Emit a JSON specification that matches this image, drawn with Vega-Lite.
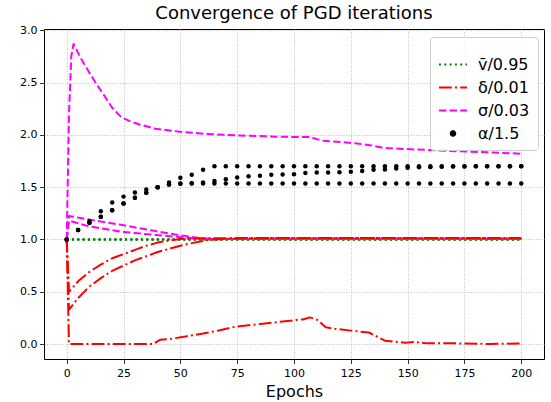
{
  "$schema": "https://vega.github.io/schema/vega-lite/v6.json",
  "width": 500,
  "height": 330,
  "autosize": {"type": "none"},
  "padding": {"left": 44, "top": 29, "right": 7, "bottom": 43},
  "title": {"text": "Convergence of PGD iterations", "fontSize": 18, "font": "DejaVu Sans", "fontWeight": "normal", "color": "black", "offset": 1, "anchor": "middle"},
  "config": {
    "font": "DejaVu Sans",
    "view": {"stroke": "black", "strokeWidth": 1},
    "axis": {"domain": false, "tickColor": "black", "tickSize": 4.5, "tickWidth": 0.8, "labelFont": "DejaVu Sans", "labelFontSize": 11, "labelColor": "black", "labelPadding": 2.5, "grid": true, "gridColor": "#b0b0b0", "gridDash": [1, 1.6], "gridWidth": 0.8, "titleFont": "DejaVu Sans", "titleFontWeight": "normal", "titleColor": "black"}
  },
  "data": {"values": [
    {"run": "A", "series": "v̄/0.95", "epoch": 0, "value": 1.0},
    {"run": "A", "series": "v̄/0.95", "epoch": 200, "value": 1.0},
    {"run": "B", "series": "v̄/0.95", "epoch": 0, "value": 1.0},
    {"run": "B", "series": "v̄/0.95", "epoch": 200, "value": 1.0},
    {"run": "C", "series": "v̄/0.95", "epoch": 0, "value": 1.0},
    {"run": "C", "series": "v̄/0.95", "epoch": 200, "value": 1.0},

    {"run": "A", "series": "δ/0.01", "epoch": 0, "value": 1.0},
    {"run": "A", "series": "δ/0.01", "epoch": 1, "value": 0.0},
    {"run": "A", "series": "δ/0.01", "epoch": 10, "value": 0.0},
    {"run": "A", "series": "δ/0.01", "epoch": 38, "value": 0.0},
    {"run": "A", "series": "δ/0.01", "epoch": 41, "value": 0.04},
    {"run": "A", "series": "δ/0.01", "epoch": 46, "value": 0.05},
    {"run": "A", "series": "δ/0.01", "epoch": 53, "value": 0.075},
    {"run": "A", "series": "δ/0.01", "epoch": 60, "value": 0.1},
    {"run": "A", "series": "δ/0.01", "epoch": 67, "value": 0.13},
    {"run": "A", "series": "δ/0.01", "epoch": 74, "value": 0.165},
    {"run": "A", "series": "δ/0.01", "epoch": 80, "value": 0.18},
    {"run": "A", "series": "δ/0.01", "epoch": 89, "value": 0.2},
    {"run": "A", "series": "δ/0.01", "epoch": 95, "value": 0.215},
    {"run": "A", "series": "δ/0.01", "epoch": 101, "value": 0.23},
    {"run": "A", "series": "δ/0.01", "epoch": 104, "value": 0.235},
    {"run": "A", "series": "δ/0.01", "epoch": 107, "value": 0.255},
    {"run": "A", "series": "δ/0.01", "epoch": 110, "value": 0.235},
    {"run": "A", "series": "δ/0.01", "epoch": 114, "value": 0.16},
    {"run": "A", "series": "δ/0.01", "epoch": 118, "value": 0.145},
    {"run": "A", "series": "δ/0.01", "epoch": 125, "value": 0.128},
    {"run": "A", "series": "δ/0.01", "epoch": 133, "value": 0.11},
    {"run": "A", "series": "δ/0.01", "epoch": 137, "value": 0.065},
    {"run": "A", "series": "δ/0.01", "epoch": 140, "value": 0.032},
    {"run": "A", "series": "δ/0.01", "epoch": 149, "value": 0.013},
    {"run": "A", "series": "δ/0.01", "epoch": 153, "value": 0.02},
    {"run": "A", "series": "δ/0.01", "epoch": 159, "value": 0.006},
    {"run": "A", "series": "δ/0.01", "epoch": 171, "value": 0.006},
    {"run": "A", "series": "δ/0.01", "epoch": 186, "value": 0.0},
    {"run": "A", "series": "δ/0.01", "epoch": 200, "value": 0.006},

    {"run": "B", "series": "δ/0.01", "epoch": 0, "value": 1.0},
    {"run": "B", "series": "δ/0.01", "epoch": 1, "value": 0.5},
    {"run": "B", "series": "δ/0.01", "epoch": 5, "value": 0.6},
    {"run": "B", "series": "δ/0.01", "epoch": 10, "value": 0.69},
    {"run": "B", "series": "δ/0.01", "epoch": 15, "value": 0.76},
    {"run": "B", "series": "δ/0.01", "epoch": 20, "value": 0.82},
    {"run": "B", "series": "δ/0.01", "epoch": 25, "value": 0.86},
    {"run": "B", "series": "δ/0.01", "epoch": 30, "value": 0.9},
    {"run": "B", "series": "δ/0.01", "epoch": 35, "value": 0.94},
    {"run": "B", "series": "δ/0.01", "epoch": 40, "value": 0.97},
    {"run": "B", "series": "δ/0.01", "epoch": 45, "value": 0.99},
    {"run": "B", "series": "δ/0.01", "epoch": 50, "value": 1.005},
    {"run": "B", "series": "δ/0.01", "epoch": 60, "value": 1.012},
    {"run": "B", "series": "δ/0.01", "epoch": 100, "value": 1.015},
    {"run": "B", "series": "δ/0.01", "epoch": 150, "value": 1.015},
    {"run": "B", "series": "δ/0.01", "epoch": 200, "value": 1.012},

    {"run": "C", "series": "δ/0.01", "epoch": 0, "value": 1.0},
    {"run": "C", "series": "δ/0.01", "epoch": 1, "value": 0.33},
    {"run": "C", "series": "δ/0.01", "epoch": 5, "value": 0.44},
    {"run": "C", "series": "δ/0.01", "epoch": 10, "value": 0.55},
    {"run": "C", "series": "δ/0.01", "epoch": 15, "value": 0.63},
    {"run": "C", "series": "δ/0.01", "epoch": 20, "value": 0.7},
    {"run": "C", "series": "δ/0.01", "epoch": 25, "value": 0.75},
    {"run": "C", "series": "δ/0.01", "epoch": 30, "value": 0.8},
    {"run": "C", "series": "δ/0.01", "epoch": 35, "value": 0.84},
    {"run": "C", "series": "δ/0.01", "epoch": 40, "value": 0.88},
    {"run": "C", "series": "δ/0.01", "epoch": 45, "value": 0.91},
    {"run": "C", "series": "δ/0.01", "epoch": 50, "value": 0.94},
    {"run": "C", "series": "δ/0.01", "epoch": 55, "value": 0.965},
    {"run": "C", "series": "δ/0.01", "epoch": 60, "value": 0.985},
    {"run": "C", "series": "δ/0.01", "epoch": 65, "value": 1.0},
    {"run": "C", "series": "δ/0.01", "epoch": 75, "value": 1.01},
    {"run": "C", "series": "δ/0.01", "epoch": 100, "value": 1.015},
    {"run": "C", "series": "δ/0.01", "epoch": 150, "value": 1.015},
    {"run": "C", "series": "δ/0.01", "epoch": 200, "value": 1.015},

    {"run": "A", "series": "σ/0.03", "epoch": 0, "value": 1.0},
    {"run": "A", "series": "σ/0.03", "epoch": 1, "value": 2.2},
    {"run": "A", "series": "σ/0.03", "epoch": 2, "value": 2.75},
    {"run": "A", "series": "σ/0.03", "epoch": 3, "value": 2.87},
    {"run": "A", "series": "σ/0.03", "epoch": 4, "value": 2.83},
    {"run": "A", "series": "σ/0.03", "epoch": 6, "value": 2.74},
    {"run": "A", "series": "σ/0.03", "epoch": 9, "value": 2.63},
    {"run": "A", "series": "σ/0.03", "epoch": 13, "value": 2.49},
    {"run": "A", "series": "σ/0.03", "epoch": 17, "value": 2.36},
    {"run": "A", "series": "σ/0.03", "epoch": 20, "value": 2.26},
    {"run": "A", "series": "σ/0.03", "epoch": 24, "value": 2.17},
    {"run": "A", "series": "σ/0.03", "epoch": 28, "value": 2.13},
    {"run": "A", "series": "σ/0.03", "epoch": 32, "value": 2.1},
    {"run": "A", "series": "σ/0.03", "epoch": 39, "value": 2.06},
    {"run": "A", "series": "σ/0.03", "epoch": 50, "value": 2.03},
    {"run": "A", "series": "σ/0.03", "epoch": 61, "value": 2.01},
    {"run": "A", "series": "σ/0.03", "epoch": 76, "value": 1.995},
    {"run": "A", "series": "σ/0.03", "epoch": 90, "value": 1.985},
    {"run": "A", "series": "σ/0.03", "epoch": 102, "value": 1.98},
    {"run": "A", "series": "σ/0.03", "epoch": 107, "value": 1.98},
    {"run": "A", "series": "σ/0.03", "epoch": 110, "value": 1.96},
    {"run": "A", "series": "σ/0.03", "epoch": 113, "value": 1.945},
    {"run": "A", "series": "σ/0.03", "epoch": 116, "value": 1.94},
    {"run": "A", "series": "σ/0.03", "epoch": 127, "value": 1.92},
    {"run": "A", "series": "σ/0.03", "epoch": 134, "value": 1.9},
    {"run": "A", "series": "σ/0.03", "epoch": 139, "value": 1.877},
    {"run": "A", "series": "σ/0.03", "epoch": 149, "value": 1.865},
    {"run": "A", "series": "σ/0.03", "epoch": 171, "value": 1.845},
    {"run": "A", "series": "σ/0.03", "epoch": 185, "value": 1.835},
    {"run": "A", "series": "σ/0.03", "epoch": 200, "value": 1.82},

    {"run": "B", "series": "σ/0.03", "epoch": 0, "value": 1.0},
    {"run": "B", "series": "σ/0.03", "epoch": 1, "value": 1.225},
    {"run": "B", "series": "σ/0.03", "epoch": 10, "value": 1.19},
    {"run": "B", "series": "σ/0.03", "epoch": 24, "value": 1.14},
    {"run": "B", "series": "σ/0.03", "epoch": 39, "value": 1.08},
    {"run": "B", "series": "σ/0.03", "epoch": 53, "value": 1.03},
    {"run": "B", "series": "σ/0.03", "epoch": 60, "value": 1.01},
    {"run": "B", "series": "σ/0.03", "epoch": 70, "value": 1.005},
    {"run": "B", "series": "σ/0.03", "epoch": 200, "value": 1.005},

    {"run": "C", "series": "σ/0.03", "epoch": 0, "value": 1.0},
    {"run": "C", "series": "σ/0.03", "epoch": 1, "value": 1.18},
    {"run": "C", "series": "σ/0.03", "epoch": 9, "value": 1.13},
    {"run": "C", "series": "σ/0.03", "epoch": 17, "value": 1.1},
    {"run": "C", "series": "σ/0.03", "epoch": 24, "value": 1.074},
    {"run": "C", "series": "σ/0.03", "epoch": 39, "value": 1.043},
    {"run": "C", "series": "σ/0.03", "epoch": 53, "value": 1.017},
    {"run": "C", "series": "σ/0.03", "epoch": 60, "value": 1.005},
    {"run": "C", "series": "σ/0.03", "epoch": 200, "value": 1.005},

    {"run": "A", "series": "α/1.5", "epoch": 0, "value": 1.0},
    {"run": "A", "series": "α/1.5", "epoch": 5, "value": 1.09},
    {"run": "A", "series": "α/1.5", "epoch": 10, "value": 1.176},
    {"run": "A", "series": "α/1.5", "epoch": 15, "value": 1.27},
    {"run": "A", "series": "α/1.5", "epoch": 20, "value": 1.354},
    {"run": "A", "series": "α/1.5", "epoch": 25, "value": 1.41},
    {"run": "A", "series": "α/1.5", "epoch": 30, "value": 1.45},
    {"run": "A", "series": "α/1.5", "epoch": 35, "value": 1.478},
    {"run": "A", "series": "α/1.5", "epoch": 40, "value": 1.5},
    {"run": "A", "series": "α/1.5", "epoch": 45, "value": 1.545},
    {"run": "A", "series": "α/1.5", "epoch": 50, "value": 1.59},
    {"run": "A", "series": "α/1.5", "epoch": 55, "value": 1.62},
    {"run": "A", "series": "α/1.5", "epoch": 60, "value": 1.668},
    {"run": "A", "series": "α/1.5", "epoch": 65, "value": 1.7},
    {"run": "A", "series": "α/1.5", "epoch": 70, "value": 1.7},
    {"run": "A", "series": "α/1.5", "epoch": 75, "value": 1.7},
    {"run": "A", "series": "α/1.5", "epoch": 80, "value": 1.7},
    {"run": "A", "series": "α/1.5", "epoch": 85, "value": 1.7},
    {"run": "A", "series": "α/1.5", "epoch": 90, "value": 1.7},
    {"run": "A", "series": "α/1.5", "epoch": 95, "value": 1.7},
    {"run": "A", "series": "α/1.5", "epoch": 100, "value": 1.7},
    {"run": "A", "series": "α/1.5", "epoch": 105, "value": 1.7},
    {"run": "A", "series": "α/1.5", "epoch": 110, "value": 1.7},
    {"run": "A", "series": "α/1.5", "epoch": 115, "value": 1.7},
    {"run": "A", "series": "α/1.5", "epoch": 120, "value": 1.7},
    {"run": "A", "series": "α/1.5", "epoch": 125, "value": 1.7},
    {"run": "A", "series": "α/1.5", "epoch": 130, "value": 1.7},
    {"run": "A", "series": "α/1.5", "epoch": 135, "value": 1.7},
    {"run": "A", "series": "α/1.5", "epoch": 140, "value": 1.7},
    {"run": "A", "series": "α/1.5", "epoch": 145, "value": 1.7},
    {"run": "A", "series": "α/1.5", "epoch": 150, "value": 1.7},
    {"run": "A", "series": "α/1.5", "epoch": 155, "value": 1.7},
    {"run": "A", "series": "α/1.5", "epoch": 160, "value": 1.7},
    {"run": "A", "series": "α/1.5", "epoch": 165, "value": 1.7},
    {"run": "A", "series": "α/1.5", "epoch": 170, "value": 1.7},
    {"run": "A", "series": "α/1.5", "epoch": 175, "value": 1.7},
    {"run": "A", "series": "α/1.5", "epoch": 180, "value": 1.7},
    {"run": "A", "series": "α/1.5", "epoch": 185, "value": 1.7},
    {"run": "A", "series": "α/1.5", "epoch": 190, "value": 1.7},
    {"run": "A", "series": "α/1.5", "epoch": 195, "value": 1.7},
    {"run": "A", "series": "α/1.5", "epoch": 200, "value": 1.7},

    {"run": "B", "series": "α/1.5", "epoch": 0, "value": 1.0},
    {"run": "B", "series": "α/1.5", "epoch": 5, "value": 1.09},
    {"run": "B", "series": "α/1.5", "epoch": 10, "value": 1.16},
    {"run": "B", "series": "α/1.5", "epoch": 15, "value": 1.217},
    {"run": "B", "series": "α/1.5", "epoch": 20, "value": 1.28},
    {"run": "B", "series": "α/1.5", "epoch": 25, "value": 1.345},
    {"run": "B", "series": "α/1.5", "epoch": 30, "value": 1.4},
    {"run": "B", "series": "α/1.5", "epoch": 35, "value": 1.446},
    {"run": "B", "series": "α/1.5", "epoch": 40, "value": 1.5},
    {"run": "B", "series": "α/1.5", "epoch": 45, "value": 1.525},
    {"run": "B", "series": "α/1.5", "epoch": 50, "value": 1.535},
    {"run": "B", "series": "α/1.5", "epoch": 55, "value": 1.537},
    {"run": "B", "series": "α/1.5", "epoch": 60, "value": 1.545},
    {"run": "B", "series": "α/1.5", "epoch": 65, "value": 1.56},
    {"run": "B", "series": "α/1.5", "epoch": 70, "value": 1.576},
    {"run": "B", "series": "α/1.5", "epoch": 75, "value": 1.592},
    {"run": "B", "series": "α/1.5", "epoch": 80, "value": 1.605},
    {"run": "B", "series": "α/1.5", "epoch": 85, "value": 1.61},
    {"run": "B", "series": "α/1.5", "epoch": 90, "value": 1.62},
    {"run": "B", "series": "α/1.5", "epoch": 95, "value": 1.621},
    {"run": "B", "series": "α/1.5", "epoch": 100, "value": 1.624},
    {"run": "B", "series": "α/1.5", "epoch": 105, "value": 1.636},
    {"run": "B", "series": "α/1.5", "epoch": 110, "value": 1.64},
    {"run": "B", "series": "α/1.5", "epoch": 115, "value": 1.641},
    {"run": "B", "series": "α/1.5", "epoch": 120, "value": 1.643},
    {"run": "B", "series": "α/1.5", "epoch": 125, "value": 1.647},
    {"run": "B", "series": "α/1.5", "epoch": 130, "value": 1.655},
    {"run": "B", "series": "α/1.5", "epoch": 135, "value": 1.668},
    {"run": "B", "series": "α/1.5", "epoch": 140, "value": 1.67},
    {"run": "B", "series": "α/1.5", "epoch": 145, "value": 1.678},
    {"run": "B", "series": "α/1.5", "epoch": 150, "value": 1.685},
    {"run": "B", "series": "α/1.5", "epoch": 155, "value": 1.69},
    {"run": "B", "series": "α/1.5", "epoch": 160, "value": 1.692},
    {"run": "B", "series": "α/1.5", "epoch": 165, "value": 1.695},
    {"run": "B", "series": "α/1.5", "epoch": 170, "value": 1.697},
    {"run": "B", "series": "α/1.5", "epoch": 175, "value": 1.699},
    {"run": "B", "series": "α/1.5", "epoch": 180, "value": 1.7},
    {"run": "B", "series": "α/1.5", "epoch": 185, "value": 1.7},
    {"run": "B", "series": "α/1.5", "epoch": 190, "value": 1.7},
    {"run": "B", "series": "α/1.5", "epoch": 195, "value": 1.7},
    {"run": "B", "series": "α/1.5", "epoch": 200, "value": 1.7},

    {"run": "C", "series": "α/1.5", "epoch": 0, "value": 1.0},
    {"run": "C", "series": "α/1.5", "epoch": 5, "value": 1.09},
    {"run": "C", "series": "α/1.5", "epoch": 10, "value": 1.16},
    {"run": "C", "series": "α/1.5", "epoch": 15, "value": 1.217},
    {"run": "C", "series": "α/1.5", "epoch": 20, "value": 1.28},
    {"run": "C", "series": "α/1.5", "epoch": 25, "value": 1.345},
    {"run": "C", "series": "α/1.5", "epoch": 30, "value": 1.4},
    {"run": "C", "series": "α/1.5", "epoch": 35, "value": 1.446},
    {"run": "C", "series": "α/1.5", "epoch": 40, "value": 1.5},
    {"run": "C", "series": "α/1.5", "epoch": 45, "value": 1.525},
    {"run": "C", "series": "α/1.5", "epoch": 50, "value": 1.533},
    {"run": "C", "series": "α/1.5", "epoch": 55, "value": 1.535},
    {"run": "C", "series": "α/1.5", "epoch": 60, "value": 1.535},
    {"run": "C", "series": "α/1.5", "epoch": 65, "value": 1.535},
    {"run": "C", "series": "α/1.5", "epoch": 70, "value": 1.535},
    {"run": "C", "series": "α/1.5", "epoch": 75, "value": 1.535},
    {"run": "C", "series": "α/1.5", "epoch": 80, "value": 1.535},
    {"run": "C", "series": "α/1.5", "epoch": 85, "value": 1.535},
    {"run": "C", "series": "α/1.5", "epoch": 90, "value": 1.535},
    {"run": "C", "series": "α/1.5", "epoch": 95, "value": 1.535},
    {"run": "C", "series": "α/1.5", "epoch": 100, "value": 1.535},
    {"run": "C", "series": "α/1.5", "epoch": 105, "value": 1.535},
    {"run": "C", "series": "α/1.5", "epoch": 110, "value": 1.535},
    {"run": "C", "series": "α/1.5", "epoch": 115, "value": 1.535},
    {"run": "C", "series": "α/1.5", "epoch": 120, "value": 1.535},
    {"run": "C", "series": "α/1.5", "epoch": 125, "value": 1.535},
    {"run": "C", "series": "α/1.5", "epoch": 130, "value": 1.535},
    {"run": "C", "series": "α/1.5", "epoch": 135, "value": 1.535},
    {"run": "C", "series": "α/1.5", "epoch": 140, "value": 1.535},
    {"run": "C", "series": "α/1.5", "epoch": 145, "value": 1.535},
    {"run": "C", "series": "α/1.5", "epoch": 150, "value": 1.535},
    {"run": "C", "series": "α/1.5", "epoch": 155, "value": 1.535},
    {"run": "C", "series": "α/1.5", "epoch": 160, "value": 1.535},
    {"run": "C", "series": "α/1.5", "epoch": 165, "value": 1.535},
    {"run": "C", "series": "α/1.5", "epoch": 170, "value": 1.535},
    {"run": "C", "series": "α/1.5", "epoch": 175, "value": 1.535},
    {"run": "C", "series": "α/1.5", "epoch": 180, "value": 1.535},
    {"run": "C", "series": "α/1.5", "epoch": 185, "value": 1.535},
    {"run": "C", "series": "α/1.5", "epoch": 190, "value": 1.535},
    {"run": "C", "series": "α/1.5", "epoch": 195, "value": 1.535},
    {"run": "C", "series": "α/1.5", "epoch": 200, "value": 1.535}
  ]},
  "encoding": {
    "x": {"field": "epoch", "type": "quantitative", "scale": {"domain": [-10, 210], "nice": false, "zero": false},
          "axis": {"values": [0, 25, 50, 75, 100, 125, 150, 175, 200], "title": "Epochs", "titleFontSize": 16, "titlePadding": 5, "labelPadding": 4}},
    "y": {"field": "value", "type": "quantitative", "scale": {"domain": [-0.1435, 3.0135], "nice": false, "zero": false},
          "axis": {"values": [0, 0.5, 1, 1.5, 2, 2.5, 3], "format": ".1f", "title": null}},
    "color": {"field": "series", "type": "nominal",
      "scale": {"domain": ["v̄/0.95", "δ/0.01", "σ/0.03", "α/1.5"], "range": ["#008000", "#ff0000", "#ff00ff", "#000000"]},
      "legend": {"orient": "none", "legendX": 386, "legendY": 8, "title": " ", "titleFontSize": 1, "titlePadding": 3.5, "labelFont": "DejaVu Sans", "labelFontSize": 16, "labelColor": "black",
        "padding": 8, "strokeColor": "#cccccc", "fillColor": "rgba(255,255,255,0.8)", "cornerRadius": 3,
        "symbolSize": 784, "symbolStrokeWidth": 2, "labelOffset": 10, "rowPadding": -3.3,
        "encode": {"symbols": {"update": {
          "shape": {"signal": "datum.value === 'α/1.5' ? 'circle' : 'stroke'"},
          "size": {"signal": "datum.value === 'α/1.5' ? 20 : 784"},
          "fill": {"signal": "datum.value === 'α/1.5' ? '#000000' : 'transparent'"},
          "stroke": {"signal": "datum.value === 'v̄/0.95' ? '#008000' : datum.value === 'δ/0.01' ? '#ff0000' : datum.value === 'σ/0.03' ? '#ff00ff' : 'transparent'"},
          "strokeDash": {"signal": "datum.value === 'v̄/0.95' ? [2, 3.3] : datum.value === 'δ/0.01' ? [12.8, 3.2, 2, 3.2] : datum.value === 'σ/0.03' ? [7.4, 3.2] : [1, 0]"},
          "strokeWidth": {"value": 2},
          "opacity": {"value": 1}
        }}}
      }}
  },
  "layer": [
    {"transform": [{"filter": "datum.series === 'v̄/0.95'"}],
     "mark": {"type": "line", "strokeWidth": 2, "strokeDash": [2, 3.3], "strokeJoin": "round"},
     "encoding": {"detail": {"field": "run"}}},
    {"transform": [{"filter": "datum.series === 'σ/0.03'"}],
     "mark": {"type": "line", "strokeWidth": 2, "strokeDash": [7.4, 3.2], "strokeJoin": "round"},
     "encoding": {"detail": {"field": "run"}}},
    {"transform": [{"filter": "datum.series === 'δ/0.01'"}],
     "mark": {"type": "line", "strokeWidth": 2, "strokeDash": [12.8, 3.2, 2, 3.2], "strokeJoin": "round"},
     "encoding": {"detail": {"field": "run"}}},
    {"transform": [{"filter": "datum.series === 'α/1.5'"}],
     "mark": {"type": "point", "filled": true, "size": 20, "opacity": 1, "strokeWidth": 0},
     "encoding": {"detail": {"field": "run"}}}
  ]
}
